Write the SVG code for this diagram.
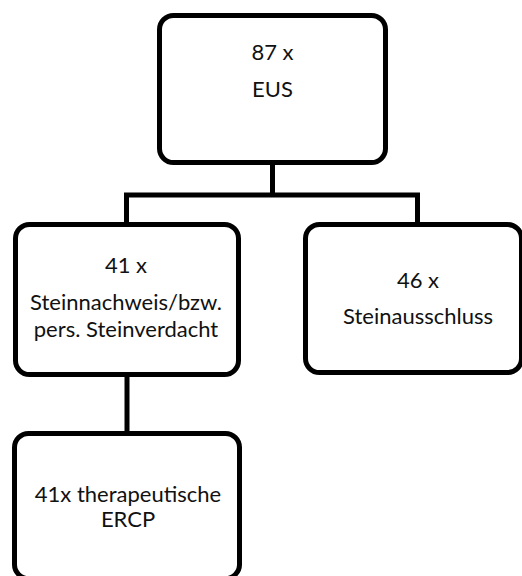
<svg xmlns="http://www.w3.org/2000/svg" width="522" height="576" viewBox="0 0 522 576">
<style>
.box{fill:#fff;stroke:#000;stroke-width:5}
.conn{fill:none;stroke:#000;stroke-width:5}
text{font-family:Lato,"Open Sans","Liberation Sans",sans-serif;font-size:22px;fill:#111;text-anchor:middle}
</style>
<rect width="522" height="576" fill="#fff"/>
<g id="connectors">
<path class="conn" d="M272.5,165 V195 M126.5,222 V195 H417.5 V222 M127,376 V431"/>
</g>
<g id="n-eus">
<rect class="box" x="159.5" y="15.5" width="226" height="147" rx="14"/>
<text x="272.5" y="60">87 x</text>
<text x="272.5" y="97">EUS</text>
</g>
<g id="n-steinnachweis">
<rect class="box" x="15.5" y="224.5" width="223" height="150" rx="14"/>
<text x="126" y="273">41 x</text>
<text x="126" y="310">Steinnachweis/bzw.</text>
<text x="126" y="337">pers. Steinverdacht</text>
</g>
<g id="n-steinausschluss">
<rect class="box" x="305.5" y="224.5" width="216" height="148" rx="14"/>
<text x="418" y="288">46 x</text>
<text x="418" y="324">Steinausschluss</text>
</g>
<g id="n-ercp">
<rect class="box" x="14.5" y="433.5" width="225" height="145" rx="14"/>
<text x="128" y="502">41x therapeutische</text>
<text x="128" y="527">ERCP</text>
</g>
</svg>
